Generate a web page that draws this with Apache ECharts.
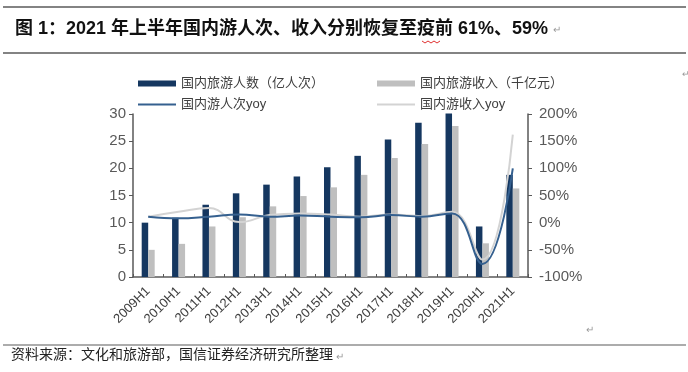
<!DOCTYPE html>
<html>
<head>
<meta charset="utf-8">
<script src="https://cdn.jsdelivr.net/npm/echarts@6/dist/echarts.min.js"></script>
<style>
html,body{margin:0;padding:0;background:#fff;}
#c{width:688px;height:372px;}
</style>
</head>
<body>
<div id="c"></div>
<script>
// ---- data ----
const categories = ['2009H1','2010H1','2011H1','2012H1','2013H1','2014H1','2015H1','2016H1','2017H1','2018H1','2019H1','2020H1','2021H1'];
const tripsValues = [10.0, 10.9, 13.3, 15.4, 17.0, 18.5, 20.2, 22.3, 25.3, 28.4, 30.1, 9.3, 18.8];
const incomeValues = [5.0, 6.1, 9.3, 11.0, 13.0, 14.9, 16.5, 18.8, 21.9, 24.5, 27.8, 6.2, 16.3];
const tripsYoy = [11, 8, 11, 15, 11, 13, 11, 10, 14, 11, 17, -76, 100];
const incomeYoy = [11, 20, 27, 1, 14, 17, 15, 11, 15, 12, 20, -68, 162];
const leftTicks = {min: 0, max: 30, interval: 5};
const rightTicks = {min: -100, max: 200, interval: 50};
const names = ['国内旅游人数（亿人次）', '国内旅游收入（千亿元）', '国内游人次yoy', '国内游收入yoy'];
const titleText = '图 1：2021 年上半年国内游人次、收入分别恢复至疫前 61%、59%';
const sourceText = '资料来源：文化和旅游部，国信证券经济研究所整理';

const LAT = '"Liberation Sans", Arial, "Noto Sans CJK SC", sans-serif';
const CJK = '"Liberation Sans", "Noto Sans CJK SC", sans-serif';
const navy = '#153760';
const gray = '#BFBFBF';
const blueLine = '#35608F';
const grayLine = '#D3D3D3';
const axisCol = '#595959';

function leg(name, left, top, h) {
  return {
    left: left, top: top, itemWidth: 38, itemHeight: h, icon: 'rect',
    textStyle: {fontSize: 13, color: '#404040', fontFamily: CJK},
    data: [name]
  };
}

const chart = echarts.init(document.getElementById('c'), null, {renderer: 'canvas'});
chart.setOption({
  animation: false,
  backgroundColor: '#fff',
  grid: {left: 133, right: 160, top: 114, bottom: 95, containLabel: false},
  legend: [
    leg(names[0], 133, 72, 6),
    leg(names[1], 372, 72, 6),
    leg(names[2], 133, 93, 2),
    leg(names[3], 372, 93, 2)
  ],
  xAxis: {
    type: 'category', data: categories, boundaryGap: true,
    axisLine: {lineStyle: {color: axisCol, width: 1.5}},
    axisTick: {show: true, inside: true, length: 3, lineStyle: {color: axisCol}},
    axisLabel: {rotate: 45, interval: 0, fontSize: 13, color: '#404040', margin: 12, fontFamily: LAT}
  },
  yAxis: [
    {
      type: 'value', min: leftTicks.min, max: leftTicks.max, interval: leftTicks.interval,
      axisLine: {show: true, lineStyle: {color: axisCol, width: 1.5}},
      axisTick: {show: true, length: 4, lineStyle: {color: axisCol}},
      splitLine: {show: false},
      axisLabel: {fontSize: 15, color: axisCol, margin: 7, fontFamily: LAT}
    },
    {
      type: 'value', min: rightTicks.min, max: rightTicks.max, interval: rightTicks.interval,
      position: 'right',
      axisLine: {show: true, lineStyle: {color: axisCol, width: 1.5}},
      axisTick: {show: true, length: 4, lineStyle: {color: axisCol}},
      splitLine: {show: false},
      axisLabel: {fontSize: 15, color: axisCol, margin: 11, fontFamily: LAT, formatter: '{value}%'}
    }
  ],
  series: [
    {name: names[0], type: 'bar', data: tripsValues, barWidth: 6.5, barGap: '0%', clip: false,
     itemStyle: {color: navy}},
    {name: names[1], type: 'bar', data: incomeValues, barWidth: 6.5, barGap: '0%', clip: false,
     itemStyle: {color: gray}},
    {name: names[3], type: 'line', yAxisIndex: 1, data: incomeYoy, smooth: 0.45, symbol: 'none',
     lineStyle: {color: grayLine, width: 2}, itemStyle: {color: grayLine}},
    {name: names[2], type: 'line', yAxisIndex: 1, data: tripsYoy, smooth: 0.45, symbol: 'none',
     lineStyle: {color: blueLine, width: 2}, itemStyle: {color: blueLine}}
  ],
  graphic: [
    {type: 'line', shape: {x1: 3, y1: 7, x2: 686, y2: 7}, style: {stroke: '#5a5a5a', lineWidth: 1.5}},
    {type: 'line', shape: {x1: 3, y1: 53, x2: 686, y2: 53}, style: {stroke: '#5a5a5a', lineWidth: 1.5}},
    {type: 'line', shape: {x1: 3, y1: 345, x2: 686, y2: 345}, style: {stroke: '#5a5a5a', lineWidth: 1.2}},
    {type: 'text', left: 15, top: 20, style: {text: titleText, font: 'bold 18px ' + CJK, fill: '#111'}},
    {type: 'text', left: 553, top: 25, style: {text: '↵', font: '10px ' + CJK, fill: '#999'}},
    {type: 'polyline', shape: {points: [[422,41],[425,43],[428,41],[431,43],[434,41],[437,43],[440,41]]},
     style: {stroke: '#e03030', lineWidth: 1, fill: null}},
    {type: 'text', left: 682, top: 70, style: {text: '↵', font: '9px ' + CJK, fill: '#999'}},
    {type: 'text', left: 586, top: 325, style: {text: '↵', font: '10px ' + CJK, fill: '#999'}},
    {type: 'text', left: 11, top: 348, style: {text: sourceText, font: '14px ' + CJK, fill: '#222'}},
    {type: 'text', left: 336, top: 352, style: {text: '↵', font: '10px ' + CJK, fill: '#999'}}
  ]
});
</script>
</body>
</html>
